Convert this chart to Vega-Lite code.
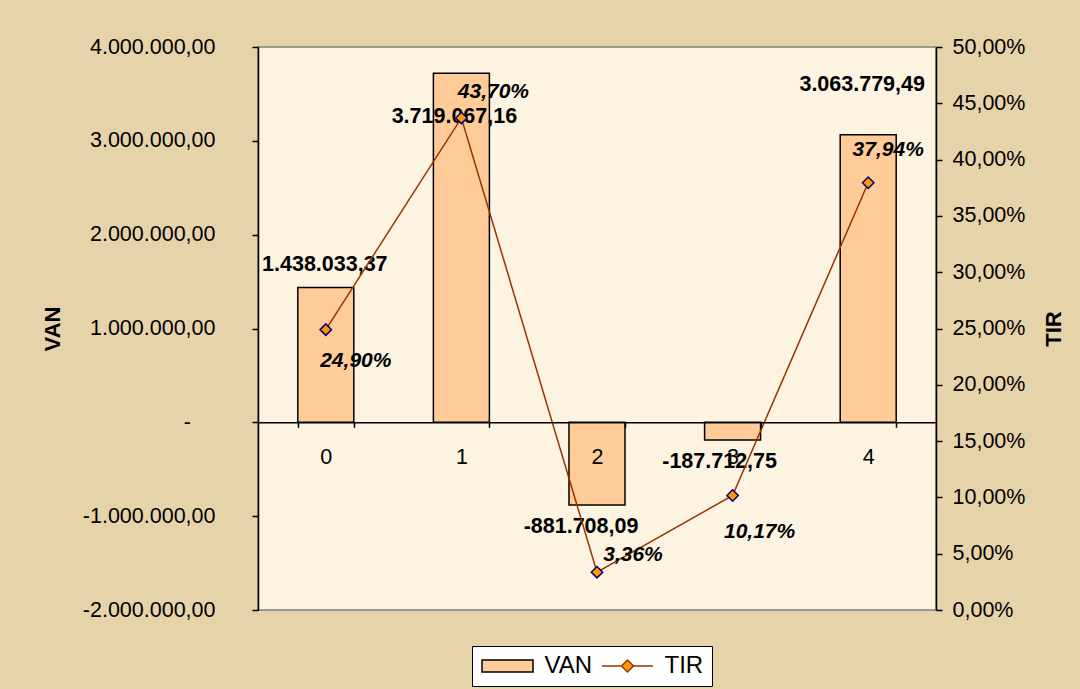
{
  "$schema": "https://vega.github.io/schema/vega-lite/v6.json",
  "width": 678,
  "height": 563,
  "autosize": {"type": "none"},
  "padding": {"left": 258, "top": 47, "right": 144, "bottom": 79},
  "background": "#E6D3AA",
  "data": {
    "values": [
      {"Periodo": "0", "VAN": 1438033.37, "TIR": 0.249},
      {"Periodo": "1", "VAN": 3719067.16, "TIR": 0.437},
      {"Periodo": "2", "VAN": -881708.09, "TIR": 0.0336},
      {"Periodo": "3", "VAN": -187712.75, "TIR": 0.1017},
      {"Periodo": "4", "VAN": 3063779.49, "TIR": 0.3794}
    ]
  },
  "encoding": {
    "x": {
      "field": "Periodo",
      "type": "ordinal",
      "scale": {"paddingInner": 0.587, "paddingOuter": 0.2935},
      "axis": {
        "orient": "bottom",
        "offset": -187.67,
        "zindex": 1,
        "title": null,
        "labelAngle": 0,
        "labelFontSize": 21.5,
        "labelPadding": 19,
        "tickBand": "extent",
        "tickSize": 5,
        "domainWidth": 1.5,
        "tickWidth": 1.5
      }
    }
  },
  "layer": [
    {
      "encoding": {
        "y": {
          "field": "VAN",
          "type": "quantitative",
          "scale": {"domain": [-2000000, 4000000], "nice": false},
          "axis": {
            "values": [-2000000, -1000000, 0, 1000000, 2000000, 3000000, 4000000],
            "format": ",.2f",
            "labelExpr": "datum.value == 0 ? '-\u2009\u2009\u2800' : datum.label",
            "labelFontSize": 21.5,
            "labelPadding": 37,
            "tickSize": 6,
            "tickWidth": 1.5,
            "domainWidth": 1.5,
            "title": "VAN",
            "titleFontSize": 22,
            "titleFontWeight": "bold",
            "titlePadding": 18
          }
        }
      },
      "layer": [
        {
          "mark": {"type": "bar", "stroke": "#000000", "strokeWidth": 1.5},
          "encoding": {
            "fill": {
              "datum": "VAN",
              "type": "nominal",
              "scale": {"domain": ["VAN", "TIR"], "range": ["#FFCC99", "#FF9900"]},
              "legend": {"title": null}
            }
          }
        },
        {
          "transform": [{"filter": "datum.Periodo == '0'"}],
          "mark": {"type": "text", "fontWeight": "bold", "fontSize": 21.5, "dx": -1, "dy": -22},
          "encoding": {"text": {"field": "VAN", "type": "quantitative", "format": ",.2f"}}
        },
        {
          "transform": [{"filter": "datum.Periodo == '1'"}],
          "mark": {"type": "text", "fontWeight": "bold", "fontSize": 21.5, "dx": -7, "dy": 44},
          "encoding": {"text": {"field": "VAN", "type": "quantitative", "format": ",.2f"}}
        },
        {
          "transform": [{"filter": "datum.Periodo == '2'"}],
          "mark": {"type": "text", "fontWeight": "bold", "fontSize": 21.5, "dx": -16, "dy": 22},
          "encoding": {"text": {"field": "VAN", "type": "quantitative", "format": ",.2f"}}
        },
        {
          "transform": [{"filter": "datum.Periodo == '3'"}],
          "mark": {"type": "text", "fontWeight": "bold", "fontSize": 21.5, "dx": -13, "dy": 22},
          "encoding": {"text": {"field": "VAN", "type": "quantitative", "format": ",.2f"}}
        },
        {
          "transform": [{"filter": "datum.Periodo == '4'"}],
          "mark": {"type": "text", "fontWeight": "bold", "fontSize": 21.5, "dx": -6, "dy": -50},
          "encoding": {"text": {"field": "VAN", "type": "quantitative", "format": ",.2f"}}
        }
      ]
    },
    {
      "encoding": {
        "y": {
          "field": "TIR",
          "type": "quantitative",
          "scale": {"domain": [0, 0.5], "nice": false},
          "axis": {
            "orient": "right",
            "values": [0, 0.05, 0.1, 0.15, 0.2, 0.25, 0.3, 0.35, 0.4, 0.45, 0.5],
            "format": ".2%",
            "labelFontSize": 21.5,
            "labelPadding": 10,
            "tickSize": 6,
            "tickWidth": 1.5,
            "domainWidth": 1.5,
            "title": "TIR",
            "titleFontSize": 22,
            "titleFontWeight": "bold",
            "titleAngle": 270,
            "titlePadding": 41
          }
        }
      },
      "layer": [
        {
          "mark": {"type": "line", "stroke": "#993300", "strokeWidth": 1.5},
          "encoding": {}
        },
        {
          "mark": {"type": "point", "shape": "diamond", "filled": true, "fill": "#FF9900", "size": 130, "stroke": "#000080", "strokeWidth": 1.5, "opacity": 1},
          "encoding": {}
        },
        {
          "mark": {"type": "point", "filled": true, "size": 0, "opacity": 0},
          "encoding": {
            "fill": {"datum": "TIR", "type": "nominal", "legend": {"title": null}},
            "shape": {
              "datum": "TIR",
              "type": "nominal",
              "scale": {
                "domain": ["VAN", "TIR"],
                "range": ["M-4.25,-1H4.25V1H-4.25Z", "M-4.25,0H-1M1,0H4.25M0,-1L1,0L0,1L-1,0Z"]
              },
              "legend": {"title": null}
            },
            "stroke": {
              "datum": "TIR",
              "type": "nominal",
              "scale": {"domain": ["VAN", "TIR"], "range": ["#000000", "#993300"]},
              "legend": {"title": null}
            }
          }
        },
        {
          "transform": [{"filter": "datum.Periodo == '0'"}],
          "mark": {"type": "text", "fontWeight": "bold", "fontStyle": "italic", "fontSize": 21, "dx": 30, "dy": 31},
          "encoding": {"text": {"field": "TIR", "type": "quantitative", "format": ".2%"}}
        },
        {
          "transform": [{"filter": "datum.Periodo == '1'"}],
          "mark": {"type": "text", "fontWeight": "bold", "fontStyle": "italic", "fontSize": 21, "dx": 32, "dy": -26},
          "encoding": {"text": {"field": "TIR", "type": "quantitative", "format": ".2%"}}
        },
        {
          "transform": [{"filter": "datum.Periodo == '2'"}],
          "mark": {"type": "text", "fontWeight": "bold", "fontStyle": "italic", "fontSize": 21, "dx": 36, "dy": -17},
          "encoding": {"text": {"field": "TIR", "type": "quantitative", "format": ".2%"}}
        },
        {
          "transform": [{"filter": "datum.Periodo == '3'"}],
          "mark": {"type": "text", "fontWeight": "bold", "fontStyle": "italic", "fontSize": 21, "dx": 27, "dy": 37},
          "encoding": {"text": {"field": "TIR", "type": "quantitative", "format": ".2%"}}
        },
        {
          "transform": [{"filter": "datum.Periodo == '4'"}],
          "mark": {"type": "text", "fontWeight": "bold", "fontStyle": "italic", "fontSize": 21, "dx": 20, "dy": -33},
          "encoding": {"text": {"field": "TIR", "type": "quantitative", "format": ".2%"}}
        }
      ]
    }
  ],
  "resolve": {"scale": {"y": "independent"}},
  "config": {
    "font": "Liberation Sans",
    "locale": {
      "number": {"decimal": ",", "thousands": ".", "grouping": [3], "currency": ["", " €"], "minus": "-"}
    },
    "view": {"fill": "#FCF3E1", "stroke": "#808080", "strokeWidth": 1.5},
    "axis": {
      "grid": false,
      "labelFont": "Liberation Sans",
      "titleFont": "Liberation Sans",
      "labelColor": "#000000",
      "titleColor": "#000000",
      "domainColor": "#000000",
      "tickColor": "#000000"
    },
    "legend": {
      "orient": "none",
      "legendX": 214,
      "legendY": 599,
      "direction": "horizontal",
      "fillColor": "#FFFFFF",
      "strokeColor": "#000000",
      "padding": 8,
      "labelFont": "Liberation Sans",
      "labelFontSize": 24,
      "labelColor": "#000000",
      "symbolSize": 144,
      "symbolOffset": 15.5,
      "symbolOpacity": 1,
      "symbolStrokeWidth": 1.5,
      "labelOffset": 25,
      "columnPadding": 6
    },
    "text": {"color": "#000000", "font": "Liberation Sans"}
  }
}
